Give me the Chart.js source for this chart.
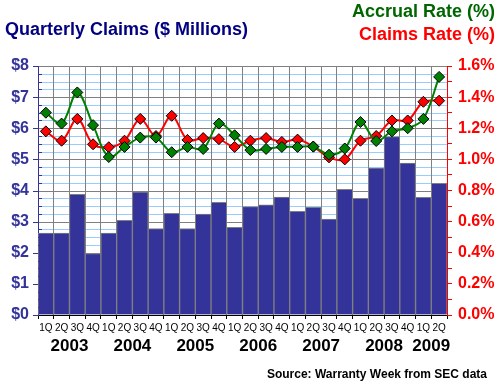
<!DOCTYPE html>
<html>
<head>
<meta charset="utf-8">
<script src="https://cdn.jsdelivr.net/npm/chart.js@4/dist/chart.umd.min.js"></script>
<style>
  body { margin: 0; background: #fff; }
  #wrap { width: 500px; height: 387px; position: relative; }
</style>
</head>
<body>
<div id="wrap"><canvas id="chart" width="500" height="387"></canvas></div>
<script>
const quarters = ['1Q', '2Q', '3Q', '4Q']
const years = ['2003', '2004', '2005', '2006', '2007', '2008', '2009']
const quartersPerYear = [4, 4, 4, 4, 4, 4, 2]

// quarterly claims, $ millions
const claims = [2.63, 2.63, 3.88, 1.97, 2.63, 3.04, 3.95, 2.78, 3.27, 2.78, 3.24, 3.62,
    2.82, 3.48, 3.54, 3.79, 3.33, 3.46, 3.08, 4.04, 3.75, 4.72, 5.73, 4.88, 3.78, 4.23]
// rates in %
const accrualRate = [1.30, 1.23, 1.43, 1.22, 1.015, 1.08, 1.14, 1.14, 1.046, 1.08, 1.067, 1.23,
    1.155, 1.06, 1.067, 1.08, 1.08, 1.082, 1.03, 1.07, 1.24, 1.118, 1.18, 1.20, 1.26, 1.53]
const claimsRate = [1.18, 1.12, 1.26, 1.097, 1.078, 1.12, 1.26, 1.15, 1.28, 1.125, 1.137, 1.13,
    1.08, 1.12, 1.137, 1.112, 1.127, 1.082, 1.013, 1.0, 1.12, 1.15, 1.25, 1.25, 1.37, 1.377]

let labels = []
for (let y = 0; y < years.length; y++) {
    for (let q = 0; q < quartersPerYear[y]; q++) {
        labels.push(quarters[q])
    }
}

const FONT = 'Arial, sans-serif'

// horizontal grid + left axis tick marks, taken from the y scale
const gridPlugin = {
    id: 'hgrid',
    beforeDraw(chart) {
        const ctx = chart.ctx
        const y = chart.scales.y
        const area = chart.chartArea
        ctx.save()
        ctx.lineWidth = 1
        for (let t of y.ticks) {
            const py = Math.round(y.getPixelForValue(t.value)) + 0.5
            ctx.strokeStyle = Number.isInteger(t.value) ? '#808080' : '#99ccff'
            ctx.beginPath()
            ctx.moveTo(area.left, py)
            ctx.lineTo(area.right, py)
            ctx.stroke()
        }
        ctx.restore()
    },
    afterDatasetsDraw(chart) {
        const ctx = chart.ctx
        const y = chart.scales.y
        const left = chart.chartArea.left
        ctx.save()
        ctx.lineWidth = 1
        ctx.strokeStyle = '#333399'
        for (let t of y.ticks) {
            const py = Math.round(y.getPixelForValue(t.value)) + 0.5
            ctx.beginPath()
            if (Number.isInteger(t.value)) {
                ctx.moveTo(left - 5, py)
                ctx.lineTo(left, py)
            } else {
                ctx.moveTo(left, py)
                ctx.lineTo(left + 4, py)
            }
            ctx.stroke()
        }
        ctx.restore()
    }
}

const textPlugin = {
    id: 'texts',
    afterDraw(chart) {
        const ctx = chart.ctx
        const x = chart.scales.x
        ctx.save()
        ctx.textBaseline = 'middle'
        ctx.font = 'bold 18px ' + FONT

        ctx.textAlign = 'left'
        ctx.fillStyle = '#000080'
        ctx.fillText('Quarterly Claims ($ Millions)', 5, 30)

        ctx.textAlign = 'right'
        ctx.fillStyle = '#006600'
        ctx.fillText('Accrual Rate (%)', 495, 12)
        ctx.fillStyle = '#ff0000'
        ctx.fillText('Claims Rate (%)', 495, 35)

        // year labels centred under their quarters
        ctx.font = 'bold 17px ' + FONT
        ctx.textAlign = 'center'
        ctx.fillStyle = '#000'
        let start = 0
        for (let y = 0; y < years.length; y++) {
            const end = start + quartersPerYear[y] - 1
            const mid = (x.getPixelForValue(start) + x.getPixelForValue(end)) / 2
            ctx.fillText(years[y], mid, 346)
            start = end + 1
        }

        ctx.font = 'bold 12px ' + FONT
        ctx.textAlign = 'right'
        ctx.fillText('Source: Warranty Week from SEC data', 487, 375)
        ctx.restore()
    }
}

const chart = new Chart(document.getElementById('chart'), {
    type: 'bar',
    data: {
        labels: labels,
        datasets: [{
            type: 'line',
            label: 'Accrual Rate (%)',
            data: accrualRate,
            yAxisID: 'y1',
            borderColor: '#008000',
            borderWidth: 2,
            tension: 0.35,
            pointStyle: 'rectRot',
            pointRadius: 5.5,
            pointBackgroundColor: '#008000',
            pointBorderColor: '#000',
            pointBorderWidth: 1,
            order: 1
        }, {
            type: 'line',
            label: 'Claims Rate (%)',
            data: claimsRate,
            yAxisID: 'y1',
            borderColor: '#ff0000',
            borderWidth: 2,
            tension: 0.35,
            pointStyle: 'rectRot',
            pointRadius: 5.5,
            pointBackgroundColor: '#ff0000',
            pointBorderColor: '#000',
            pointBorderWidth: 1,
            order: 2
        }, {
            label: 'Quarterly Claims',
            data: claims,
            yAxisID: 'y',
            backgroundColor: '#333399',
            borderColor: '#808080',
            borderWidth: 1,
            barPercentage: 1,
            categoryPercentage: 1,
            order: 3
        }]
    },
    options: {
        responsive: false,
        animation: false,
        devicePixelRatio: 1,
        layout: { padding: { top: 66 } },
        plugins: {
            legend: { display: false },
            tooltip: { enabled: false }
        },
        scales: {
            x: {
                offset: true,
                afterFit: s => { s.height = 72 },
                grid: {
                    offset: true,
                    color: '#808080',
                    tickColor: '#000',
                    tickLength: 4
                },
                border: { color: '#000' },
                ticks: {
                    color: '#000',
                    font: { family: FONT, size: 10 },
                    padding: 3,
                    maxRotation: 0,
                    autoSkip: false
                }
            },
            y: {
                position: 'left',
                min: 0,
                max: 8,
                afterFit: s => { s.width = 38 },
                grid: { drawOnChartArea: false, drawTicks: false },
                border: { color: '#333399' },
                ticks: {
                    stepSize: 0.25,
                    autoSkip: false,
                    color: '#333399',
                    padding: 9,
                    font: { family: FONT, size: 16, weight: 'bold' },
                    callback: v => Number.isInteger(v) ? '$' + v : ''
                }
            },
            y1: {
                position: 'right',
                min: 0,
                max: 1.6,
                afterFit: s => { s.width = 53 },
                grid: {
                    drawOnChartArea: false,
                    tickColor: '#ff0000',
                    tickLength: 5
                },
                border: { color: '#ff0000' },
                ticks: {
                    stepSize: 0.1,
                    autoSkip: false,
                    color: '#ff0000',
                    padding: 6,
                    font: { family: FONT, size: 16, weight: 'bold' },
                    callback: v => Math.round(v * 10) % 2 === 0 ? v.toFixed(1) + '%' : ''
                }
            }
        }
    },
    plugins: [gridPlugin, textPlugin]
})
</script>
</body>
</html>
